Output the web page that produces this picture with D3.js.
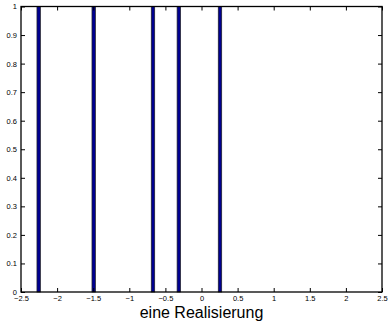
<!DOCTYPE html>
<html>
<head>
<meta charset="utf-8">
<script src="https://cdn.jsdelivr.net/npm/d3@7"></script>
<style>
  html, body { margin: 0; padding: 0; background: #fff; }
  svg { display: block; }
  text { font-family: "Liberation Sans", Arial, Helvetica, sans-serif; fill: #000; }
</style>
</head>
<body>
<svg id="chart" width="392" height="326"></svg>
<script>
// One realisation: positions of the impulses and their heights
const positions = [-2.255, -1.493, -0.672, -0.314, 0.256];
const heights = [1, 1, 1, 1, 1];
const xTicks = [-2.5, -2, -1.5, -1, -0.5, 0, 0.5, 1, 1.5, 2, 2.5];
const yTicks = [0, 0.1, 0.2, 0.3, 0.4, 0.5, 0.6, 0.7, 0.8, 0.9, 1];
const xLabel = "eine Realisierung";

const svg = d3.select("#chart");
const plotL = 21, plotR = 382, plotT = 6.5, plotB = 292;

const x = d3.scaleLinear().domain([-2.5, 2.5]).range([plotL, plotR]);
const y = d3.scaleLinear().domain([0, 1]).range([plotB, plotT]);

const fmt = v => (v < 0 ? "\u2212" : "") + String(Math.abs(v));
const barW = 0.048;

// bars
svg.append("g")
  .selectAll("rect")
  .data(positions.map((p, i) => ({ p, h: heights[i] })))
  .join("rect")
  .attr("x", d => x(d.p - barW / 2))
  .attr("width", d => x(d.p + barW / 2) - x(d.p - barW / 2))
  .attr("y", d => y(d.h))
  .attr("height", d => y(0) - y(d.h))
  .attr("fill", "#00008f")
  .attr("stroke", "#222")
  .attr("stroke-width", 0.7);

const tickLen = 4;
const axStyle = g => {
  g.select(".domain").remove();
  g.selectAll("line").attr("stroke", "#000").attr("stroke-width", 1);
  g.selectAll("text").attr("font-size", 7.5);
};

// bottom axis (ticks point inward)
svg.append("g")
  .attr("transform", `translate(0,${plotB})`)
  .call(d3.axisBottom(x).tickValues(xTicks).tickFormat(fmt).tickSizeInner(-tickLen).tickSizeOuter(0).tickPadding(4))
  .call(axStyle);

// top axis ticks
svg.append("g")
  .attr("transform", `translate(0,${plotT})`)
  .call(d3.axisTop(x).tickValues(xTicks).tickFormat("").tickSizeInner(-tickLen).tickSizeOuter(0))
  .call(axStyle);

// left axis
svg.append("g")
  .attr("transform", `translate(${plotL},0)`)
  .call(d3.axisLeft(y).tickValues(yTicks).tickFormat(d => String(d)).tickSizeInner(-tickLen).tickSizeOuter(0).tickPadding(4))
  .call(axStyle);

// right axis ticks
svg.append("g")
  .attr("transform", `translate(${plotR},0)`)
  .call(d3.axisRight(y).tickValues(yTicks).tickFormat("").tickSizeInner(-tickLen).tickSizeOuter(0))
  .call(axStyle);

// box
svg.append("rect")
  .attr("x", plotL).attr("y", plotT)
  .attr("width", plotR - plotL).attr("height", plotB - plotT)
  .attr("fill", "none").attr("stroke", "#000").attr("stroke-width", 1.3);

// x label
svg.append("text")
  .attr("x", (plotL + plotR) / 2)
  .attr("y", 317.5)
  .attr("text-anchor", "middle")
  .attr("font-size", 16)
  .text(xLabel);
</script>
</body>
</html>
